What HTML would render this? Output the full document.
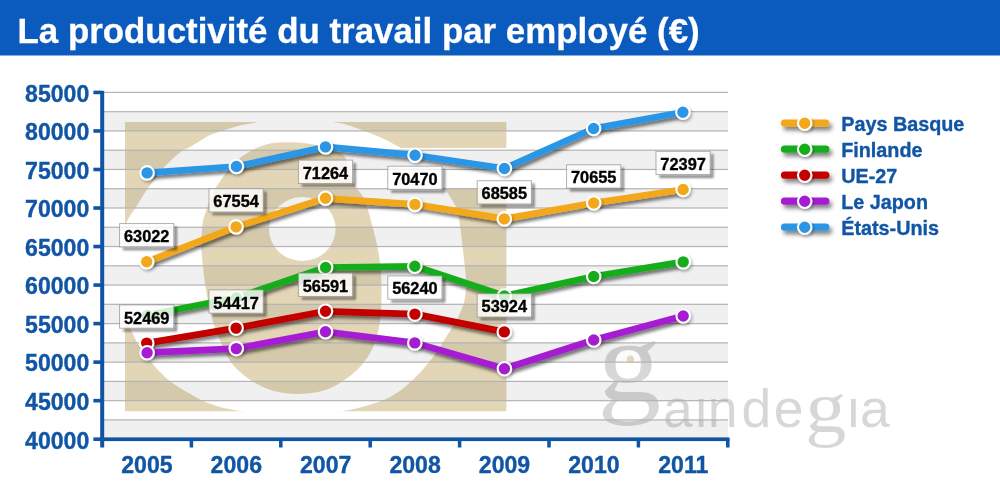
<!DOCTYPE html>
<html lang="fr">
<head>
<meta charset="utf-8">
<title>La productivité du travail par employé (€)</title>
<style>
html,body{margin:0;padding:0;background:#fff;}
body{width:1000px;height:500px;overflow:hidden;font-family:"Liberation Sans",sans-serif;}
svg{display:block}
svg text{font-family:"Liberation Sans",sans-serif;font-weight:bold}
.title{font-size:34.7px;fill:#fff;stroke:#fff;stroke-width:0.3px}
.ylab text,.xlab text{font-size:23.1px;fill:#1155a5;stroke:#1155a5;stroke-width:0.35px;stroke-linejoin:round}
.dl text{font-size:16.35px;fill:#000;stroke:#000;stroke-width:0.35px;stroke-linejoin:round}
.leg text{font-size:19.8px;fill:#1155a5;stroke:#1155a5;stroke-width:0.35px;stroke-linejoin:round}
.wm text{font-weight:normal;fill:#000;fill-opacity:0.155}
.wm .serif{font-family:"Liberation Serif",serif}
</style>
</head>
<body>
<svg width="1000" height="500" viewBox="0 0 1000 500">
<defs>
 <filter id="sh" x="-20%" y="-50%" width="140%" height="200%">
  <feDropShadow dx="2" dy="3.2" stdDeviation="1.6" flood-color="#000" flood-opacity="0.5"/>
 </filter>
 <filter id="shl" filterUnits="userSpaceOnUse" x="770" y="105" width="80" height="140">
  <feDropShadow dx="2.6" dy="3.6" stdDeviation="1.9" flood-color="#000" flood-opacity="0.5"/>
 </filter>
 <filter id="shm" x="-20%" y="-50%" width="140%" height="200%">
  <feDropShadow dx="1.5" dy="2" stdDeviation="1.5" flood-color="#000" flood-opacity="0.28"/>
 </filter>
 <filter id="sh2" x="-20%" y="-20%" width="140%" height="140%">
  <feGaussianBlur stdDeviation="0.95"/>
 </filter>
</defs>
<rect x="0" y="0" width="1000" height="500" fill="#fff"/>
<rect x="0" y="0" width="1000" height="55.5" fill="#0b5abd"/>
<text class="title" transform="translate(17.5,42.5) scale(1.0055,0.992)">La productivité du travail par employé (€)</text>
<g class="bands"><rect x="104" y="111.67" width="624" height="19.27" fill="#f0f0f0"/><rect x="104" y="150.20" width="624" height="19.27" fill="#f0f0f0"/><rect x="104" y="188.73" width="624" height="19.27" fill="#f0f0f0"/><rect x="104" y="227.27" width="624" height="19.27" fill="#f0f0f0"/><rect x="104" y="265.80" width="624" height="19.27" fill="#f0f0f0"/><rect x="104" y="304.33" width="624" height="19.27" fill="#f0f0f0"/><rect x="104" y="342.87" width="624" height="19.27" fill="#f0f0f0"/><rect x="104" y="381.40" width="624" height="19.27" fill="#f0f0f0"/><rect x="104" y="419.93" width="624" height="19.27" fill="#f0f0f0"/></g>

<mask id="lm" maskUnits="userSpaceOnUse" x="120" y="118" width="392" height="298">
 <rect x="125" y="122" width="381.6" height="289.5" fill="#fff"/>
 <path d="M295.0 114.0C288.3 114.1 281.2 116.2 275.0 117.5C268.8 118.8 263.8 120.7 258.0 122.0C252.2 123.3 245.5 124.2 240.0 125.5C234.5 126.8 230.0 128.4 225.0 130.0C220.0 131.6 214.2 133.2 210.0 135.0C205.8 136.8 203.3 139.0 200.0 141.0C196.7 143.0 193.3 145.1 190.0 147.0C186.7 148.9 184.3 149.1 180.0 152.5C175.7 155.9 169.6 161.2 164.0 167.5C158.4 173.8 151.1 183.9 146.4 190.5C141.7 197.1 138.7 202.8 136.0 207.0C133.3 211.2 131.8 212.8 130.0 216.0C128.2 219.2 126.9 220.3 125.5 226.0C124.1 231.7 122.3 241.5 121.5 250.0C120.7 258.5 120.3 267.8 120.5 277.0C120.7 286.2 121.5 297.8 122.5 305.0C123.5 312.2 125.2 316.0 126.5 320.0C127.8 324.0 128.0 324.0 130.4 328.8C132.8 333.6 135.6 341.1 141.2 349.0C146.8 356.9 156.5 368.9 164.0 376.0C171.5 383.1 177.9 386.6 186.0 391.4C194.1 396.2 202.9 401.2 212.4 404.6C221.9 408.0 230.1 409.7 243.0 411.6C255.9 413.5 273.9 416.0 290.0 416.0C306.1 416.0 325.1 413.9 339.6 411.6C354.1 409.3 367.1 405.8 377.0 402.4C386.9 399.0 392.4 395.8 399.0 391.4C405.6 387.0 411.1 381.5 416.6 376.0C422.1 370.5 427.2 364.6 432.0 358.4C436.8 352.2 440.8 345.6 445.2 338.6C449.6 331.6 455.2 323.0 458.4 316.6C461.6 310.2 463.2 305.8 464.5 300.0C465.8 294.2 466.1 288.8 466.0 282.0C465.9 275.2 465.3 270.2 464.0 259.0C462.7 247.8 460.4 224.8 458.4 215.0C456.4 205.2 454.6 204.7 452.0 200.0C449.4 195.3 446.7 191.7 443.0 187.0C439.3 182.3 434.8 177.0 430.0 172.0C425.2 167.0 418.5 160.8 414.0 157.0C409.5 153.2 406.3 151.1 403.0 149.0C399.7 146.9 397.5 146.0 394.0 144.2C390.5 142.4 387.0 140.2 382.0 138.0C377.0 135.8 370.0 133.1 364.0 130.8C358.0 128.6 351.4 126.0 346.0 124.5C340.6 123.0 336.8 123.0 331.6 121.8C326.4 120.5 321.1 118.3 315.0 117.0C308.9 115.7 301.7 113.9 295.0 114.0Z" fill="#000"/>
 <rect x="396" y="148" width="120" height="40" fill="#000"/>
 <path d="M298.0 142.6C291.2 142.2 281.9 141.9 275.0 142.8C268.1 143.7 262.4 145.3 256.4 148.0C250.4 150.7 244.3 154.2 238.8 159.0C233.3 163.8 227.8 170.7 223.4 176.6C219.0 182.5 215.3 188.3 212.4 194.2C209.5 200.1 207.5 206.7 205.8 211.8C204.2 216.9 203.2 219.0 202.5 225.0C201.8 231.0 201.0 238.7 201.4 248.0C201.8 257.3 203.3 270.7 204.7 281.0C206.1 291.3 208.0 301.5 210.0 310.0C212.0 318.5 213.5 323.5 216.8 332.0C220.1 340.5 225.1 353.3 230.0 360.8C234.9 368.3 240.7 372.5 246.0 376.8C251.3 381.1 256.7 383.9 262.0 386.4C267.3 388.9 272.1 390.8 278.0 392.0C283.9 393.2 290.5 393.9 297.2 393.9C303.9 393.9 311.9 393.2 318.0 392.0C324.1 390.8 328.7 389.1 334.0 386.4C339.3 383.7 345.2 379.7 350.0 376.0C354.8 372.3 358.8 368.4 362.5 364.0C366.2 359.6 369.3 355.3 372.0 349.6C374.7 343.9 377.0 336.6 378.5 330.0C380.0 323.4 380.5 318.2 381.0 310.0C381.5 301.8 381.6 289.5 381.4 281.0C381.1 272.5 380.5 266.2 379.5 259.0C378.5 251.8 376.8 243.7 375.5 238.0C374.2 232.3 373.2 229.7 372.0 225.0C370.8 220.3 369.6 214.8 368.0 210.0C366.4 205.2 364.7 200.1 362.5 196.0C360.3 191.9 357.2 189.5 355.0 185.5C352.8 181.5 351.0 176.4 349.5 172.0C348.0 167.6 347.7 162.2 346.0 159.0C344.3 155.8 342.2 154.2 339.5 152.5C336.8 150.8 333.9 149.8 330.0 148.5C326.1 147.2 321.3 146.0 316.0 145.0C310.7 144.0 304.8 143.0 298.0 142.6Z" fill="#fff"/>
 <ellipse cx="302.3" cy="229" rx="33.3" ry="32" fill="#000"/>
</mask>
<rect x="125" y="122" width="381.6" height="289.5" fill="rgb(227,214,183)" mask="url(#lm)" style="mix-blend-mode:multiply"/>
<ellipse cx="628.8" cy="364.5" rx="14.5" ry="14" fill="#fff" fill-opacity="0.75"/>
<g class="wm"><text font-size="53.5"><tspan class="serif" x="597.3" y="400.9" font-size="115.67" textLength="63.96" lengthAdjust="spacingAndGlyphs">g</tspan><tspan x="662.9 695.2 707.8 741.6 773.7" y="426.9">ainde</tspan><tspan class="serif" x="805.3" y="431.8" font-size="73.28" textLength="41.06" lengthAdjust="spacingAndGlyphs">g</tspan><tspan x="847.6 860.1" y="426.9">ia</tspan></text></g>
<rect x="697.6" y="386.5" width="7" height="8.6" fill="#f0f0f0"/>
<rect x="850" y="386.5" width="7" height="8.6" fill="#fff"/>
<circle cx="630.4" cy="359.2" r="3.6" fill="#e3d8b8"/>
<g class="gridlines"><rect x="104" y="91.80" width="624" height="1.2" fill="#b3b3b3"/><rect x="104" y="111.07" width="624" height="1.2" fill="#b3b3b3"/><rect x="104" y="130.33" width="624" height="1.2" fill="#b3b3b3"/><rect x="104" y="149.60" width="624" height="1.2" fill="#b3b3b3"/><rect x="104" y="168.87" width="624" height="1.2" fill="#b3b3b3"/><rect x="104" y="188.13" width="624" height="1.2" fill="#b3b3b3"/><rect x="104" y="207.40" width="624" height="1.2" fill="#b3b3b3"/><rect x="104" y="226.67" width="624" height="1.2" fill="#b3b3b3"/><rect x="104" y="245.93" width="624" height="1.2" fill="#b3b3b3"/><rect x="104" y="265.20" width="624" height="1.2" fill="#b3b3b3"/><rect x="104" y="284.47" width="624" height="1.2" fill="#b3b3b3"/><rect x="104" y="303.73" width="624" height="1.2" fill="#b3b3b3"/><rect x="104" y="323.00" width="624" height="1.2" fill="#b3b3b3"/><rect x="104" y="342.27" width="624" height="1.2" fill="#b3b3b3"/><rect x="104" y="361.53" width="624" height="1.2" fill="#b3b3b3"/><rect x="104" y="380.80" width="624" height="1.2" fill="#b3b3b3"/><rect x="104" y="400.07" width="624" height="1.2" fill="#b3b3b3"/><rect x="104" y="419.33" width="624" height="1.2" fill="#b3b3b3"/></g>
<g class="axes"><rect x="100.2" y="90.8" width="4" height="356.7" fill="#0f54a5"/><rect x="100.2" y="437.4" width="629.3" height="3.7" fill="#0f54a5"/><rect x="93.4" y="437.40" width="8" height="3.6" fill="#0f54a5"/><rect x="93.4" y="398.87" width="8" height="3.6" fill="#0f54a5"/><rect x="93.4" y="360.34" width="8" height="3.6" fill="#0f54a5"/><rect x="93.4" y="321.81" width="8" height="3.6" fill="#0f54a5"/><rect x="93.4" y="283.28" width="8" height="3.6" fill="#0f54a5"/><rect x="93.4" y="244.75" width="8" height="3.6" fill="#0f54a5"/><rect x="93.4" y="206.22" width="8" height="3.6" fill="#0f54a5"/><rect x="93.4" y="167.69" width="8" height="3.6" fill="#0f54a5"/><rect x="93.4" y="129.16" width="8" height="3.6" fill="#0f54a5"/><rect x="93.4" y="90.63" width="8" height="3.6" fill="#0f54a5"/><rect x="189.65" y="439" width="3.5" height="8.5" fill="#0f54a5"/><rect x="279.05" y="439" width="3.5" height="8.5" fill="#0f54a5"/><rect x="368.45" y="439" width="3.5" height="8.5" fill="#0f54a5"/><rect x="457.85" y="439" width="3.5" height="8.5" fill="#0f54a5"/><rect x="547.25" y="439" width="3.5" height="8.5" fill="#0f54a5"/><rect x="636.65" y="439" width="3.5" height="8.5" fill="#0f54a5"/><rect x="726.05" y="439" width="3.5" height="8.5" fill="#0f54a5"/></g>
<g class="ylab"><text x="89.3" y="448.5" text-anchor="end">40000</text><text x="89.3" y="410.0" text-anchor="end">45000</text><text x="89.3" y="371.4" text-anchor="end">50000</text><text x="89.3" y="332.9" text-anchor="end">55000</text><text x="89.3" y="294.4" text-anchor="end">60000</text><text x="89.3" y="255.8" text-anchor="end">65000</text><text x="89.3" y="217.3" text-anchor="end">70000</text><text x="89.3" y="178.8" text-anchor="end">75000</text><text x="89.3" y="140.3" text-anchor="end">80000</text><text x="89.3" y="101.7" text-anchor="end">85000</text></g>
<g class="xlab"><text x="146.9" y="473.2" text-anchor="middle">2005</text><text x="236.3" y="473.2" text-anchor="middle">2006</text><text x="325.7" y="473.2" text-anchor="middle">2007</text><text x="415.1" y="473.2" text-anchor="middle">2008</text><text x="504.5" y="473.2" text-anchor="middle">2009</text><text x="593.9" y="473.2" text-anchor="middle">2010</text><text x="683.3" y="473.2" text-anchor="middle">2011</text></g>
<g class="series"><polyline filter="url(#sh)" points="147.1,172.9 236.4,166.5 325.5,146.9 415.0,155.2 504.4,168.5 593.6,128.5 682.9,112.2" fill="none" stroke="#2c96e5" stroke-width="6.7" stroke-linejoin="round" stroke-linecap="round"/><g filter="url(#shm)"><circle cx="147.1" cy="172.9" r="6.75" fill="#2c96e5" stroke="#fff" stroke-width="2.1"/><circle cx="236.4" cy="166.5" r="6.75" fill="#2c96e5" stroke="#fff" stroke-width="2.1"/><circle cx="325.5" cy="146.9" r="6.75" fill="#2c96e5" stroke="#fff" stroke-width="2.1"/><circle cx="415.0" cy="155.2" r="6.75" fill="#2c96e5" stroke="#fff" stroke-width="2.1"/><circle cx="504.4" cy="168.5" r="6.75" fill="#2c96e5" stroke="#fff" stroke-width="2.1"/><circle cx="593.6" cy="128.5" r="6.75" fill="#2c96e5" stroke="#fff" stroke-width="2.1"/><circle cx="682.9" cy="112.2" r="6.75" fill="#2c96e5" stroke="#fff" stroke-width="2.1"/></g><polyline filter="url(#sh)" points="146.7,261.8 236.1,226.9 325.5,198.3 414.9,204.4 504.3,218.9 593.7,203.0 683.1,189.5" fill="none" stroke="#f3a81a" stroke-width="6.7" stroke-linejoin="round" stroke-linecap="round"/><g filter="url(#shm)"><circle cx="146.7" cy="261.8" r="6.75" fill="#f3a81a" stroke="#fff" stroke-width="2.1"/><circle cx="236.1" cy="226.9" r="6.75" fill="#f3a81a" stroke="#fff" stroke-width="2.1"/><circle cx="325.5" cy="198.3" r="6.75" fill="#f3a81a" stroke="#fff" stroke-width="2.1"/><circle cx="414.9" cy="204.4" r="6.75" fill="#f3a81a" stroke="#fff" stroke-width="2.1"/><circle cx="504.3" cy="218.9" r="6.75" fill="#f3a81a" stroke="#fff" stroke-width="2.1"/><circle cx="593.7" cy="203.0" r="6.75" fill="#f3a81a" stroke="#fff" stroke-width="2.1"/><circle cx="683.1" cy="189.5" r="6.75" fill="#f3a81a" stroke="#fff" stroke-width="2.1"/></g><polyline filter="url(#sh)" points="147.1,315.2 236.4,297.8 325.6,267.5 414.8,266.3 504.4,296.0 593.7,276.5 683.2,261.9" fill="none" stroke="#18ad1b" stroke-width="6.7" stroke-linejoin="round" stroke-linecap="round"/><g filter="url(#shm)"><circle cx="147.1" cy="315.2" r="6.75" fill="#18ad1b" stroke="#fff" stroke-width="2.1"/><circle cx="236.4" cy="297.8" r="6.75" fill="#18ad1b" stroke="#fff" stroke-width="2.1"/><circle cx="325.6" cy="267.5" r="6.75" fill="#18ad1b" stroke="#fff" stroke-width="2.1"/><circle cx="414.8" cy="266.3" r="6.75" fill="#18ad1b" stroke="#fff" stroke-width="2.1"/><circle cx="504.4" cy="296.0" r="6.75" fill="#18ad1b" stroke="#fff" stroke-width="2.1"/><circle cx="593.7" cy="276.5" r="6.75" fill="#18ad1b" stroke="#fff" stroke-width="2.1"/><circle cx="683.2" cy="261.9" r="6.75" fill="#18ad1b" stroke="#fff" stroke-width="2.1"/></g><polyline filter="url(#sh)" points="146.7,343.1 236.1,328.1 325.5,311.3 414.9,314.1 504.3,331.9" fill="none" stroke="#c20404" stroke-width="6.7" stroke-linejoin="round" stroke-linecap="round"/><g filter="url(#shm)"><circle cx="146.7" cy="343.1" r="6.75" fill="#c20404" stroke="#fff" stroke-width="2.1"/><circle cx="236.1" cy="328.1" r="6.75" fill="#c20404" stroke="#fff" stroke-width="2.1"/><circle cx="325.5" cy="311.3" r="6.75" fill="#c20404" stroke="#fff" stroke-width="2.1"/><circle cx="414.9" cy="314.1" r="6.75" fill="#c20404" stroke="#fff" stroke-width="2.1"/><circle cx="504.3" cy="331.9" r="6.75" fill="#c20404" stroke="#fff" stroke-width="2.1"/></g><polyline filter="url(#sh)" points="147.1,352.7 236.3,348.6 325.5,331.7 414.8,342.9 504.4,368.8 593.7,340.0 683.2,316.0" fill="none" stroke="#a51dd2" stroke-width="6.7" stroke-linejoin="round" stroke-linecap="round"/><g filter="url(#shm)"><circle cx="147.1" cy="352.7" r="6.75" fill="#a51dd2" stroke="#fff" stroke-width="2.1"/><circle cx="236.3" cy="348.6" r="6.75" fill="#a51dd2" stroke="#fff" stroke-width="2.1"/><circle cx="325.5" cy="331.7" r="6.75" fill="#a51dd2" stroke="#fff" stroke-width="2.1"/><circle cx="414.8" cy="342.9" r="6.75" fill="#a51dd2" stroke="#fff" stroke-width="2.1"/><circle cx="504.4" cy="368.8" r="6.75" fill="#a51dd2" stroke="#fff" stroke-width="2.1"/><circle cx="593.7" cy="340.0" r="6.75" fill="#a51dd2" stroke="#fff" stroke-width="2.1"/><circle cx="683.2" cy="316.0" r="6.75" fill="#a51dd2" stroke="#fff" stroke-width="2.1"/></g></g>
<g class="dl"><path filter="url(#sh2)" d="M174.3 226.4h2.8v23.8h-54.2v-2.8h51.4z" fill="#000" fill-opacity="0.46"/><rect x="119.6" y="223.6" width="54.2" height="23.3" fill="#fff" fill-opacity="0.8" stroke="#8c8c8c" stroke-opacity="0.75" stroke-width="0.9"/><text x="146.7" y="242.1" text-anchor="middle">63022</text><path filter="url(#sh2)" d="M263.7 191.5h2.8v23.8h-54.2v-2.8h51.4z" fill="#000" fill-opacity="0.46"/><rect x="209.0" y="188.7" width="54.2" height="23.3" fill="#fff" fill-opacity="0.8" stroke="#8c8c8c" stroke-opacity="0.75" stroke-width="0.9"/><text x="236.1" y="207.2" text-anchor="middle">67554</text><path filter="url(#sh2)" d="M353.1 162.9h2.8v23.8h-54.2v-2.8h51.4z" fill="#000" fill-opacity="0.46"/><rect x="298.4" y="160.1" width="54.2" height="23.3" fill="#fff" fill-opacity="0.8" stroke="#8c8c8c" stroke-opacity="0.75" stroke-width="0.9"/><text x="325.5" y="178.6" text-anchor="middle">71264</text><path filter="url(#sh2)" d="M442.5 169.0h2.8v23.8h-54.2v-2.8h51.4z" fill="#000" fill-opacity="0.46"/><rect x="387.8" y="166.2" width="54.2" height="23.3" fill="#fff" fill-opacity="0.8" stroke="#8c8c8c" stroke-opacity="0.75" stroke-width="0.9"/><text x="414.9" y="184.7" text-anchor="middle">70470</text><path filter="url(#sh2)" d="M531.9 183.5h2.8v23.8h-54.2v-2.8h51.4z" fill="#000" fill-opacity="0.46"/><rect x="477.2" y="180.7" width="54.2" height="23.3" fill="#fff" fill-opacity="0.8" stroke="#8c8c8c" stroke-opacity="0.75" stroke-width="0.9"/><text x="504.3" y="199.3" text-anchor="middle">68585</text><path filter="url(#sh2)" d="M621.3 167.6h2.8v23.8h-54.2v-2.8h51.4z" fill="#000" fill-opacity="0.46"/><rect x="566.6" y="164.8" width="54.2" height="23.3" fill="#fff" fill-opacity="0.8" stroke="#8c8c8c" stroke-opacity="0.75" stroke-width="0.9"/><text x="593.7" y="183.3" text-anchor="middle">70655</text><path filter="url(#sh2)" d="M710.7 154.1h2.8v23.8h-54.2v-2.8h51.4z" fill="#000" fill-opacity="0.46"/><rect x="656.0" y="151.3" width="54.2" height="23.3" fill="#fff" fill-opacity="0.8" stroke="#8c8c8c" stroke-opacity="0.75" stroke-width="0.9"/><text x="683.1" y="169.9" text-anchor="middle">72397</text><path filter="url(#sh2)" d="M174.3 307.7h2.8v23.8h-54.2v-2.8h51.4z" fill="#000" fill-opacity="0.46"/><rect x="119.6" y="304.9" width="54.2" height="23.3" fill="#fff" fill-opacity="0.8" stroke="#8c8c8c" stroke-opacity="0.75" stroke-width="0.9"/><text x="146.7" y="323.5" text-anchor="middle">52469</text><path filter="url(#sh2)" d="M263.7 292.7h2.8v23.8h-54.2v-2.8h51.4z" fill="#000" fill-opacity="0.46"/><rect x="209.0" y="289.9" width="54.2" height="23.3" fill="#fff" fill-opacity="0.8" stroke="#8c8c8c" stroke-opacity="0.75" stroke-width="0.9"/><text x="236.1" y="308.5" text-anchor="middle">54417</text><path filter="url(#sh2)" d="M353.1 275.9h2.8v23.8h-54.2v-2.8h51.4z" fill="#000" fill-opacity="0.46"/><rect x="298.4" y="273.1" width="54.2" height="23.3" fill="#fff" fill-opacity="0.8" stroke="#8c8c8c" stroke-opacity="0.75" stroke-width="0.9"/><text x="325.5" y="291.7" text-anchor="middle">56591</text><path filter="url(#sh2)" d="M442.5 278.7h2.8v23.8h-54.2v-2.8h51.4z" fill="#000" fill-opacity="0.46"/><rect x="387.8" y="275.9" width="54.2" height="23.3" fill="#fff" fill-opacity="0.8" stroke="#8c8c8c" stroke-opacity="0.75" stroke-width="0.9"/><text x="414.9" y="294.4" text-anchor="middle">56240</text><path filter="url(#sh2)" d="M531.9 296.5h2.8v23.8h-54.2v-2.8h51.4z" fill="#000" fill-opacity="0.46"/><rect x="477.2" y="293.7" width="54.2" height="23.3" fill="#fff" fill-opacity="0.8" stroke="#8c8c8c" stroke-opacity="0.75" stroke-width="0.9"/><text x="504.3" y="312.3" text-anchor="middle">53924</text></g>
<g class="leg"><line filter="url(#shl)" x1="784.5" y1="123.2" x2="825.8" y2="123.2" stroke="#f3a81a" stroke-width="7.2" stroke-linecap="round"/><circle filter="url(#shm)" cx="804.7" cy="123.2" r="6.75" fill="#f3a81a" stroke="#fff" stroke-width="2.1"/><text x="841.2" y="130.5">Pays Basque</text><line filter="url(#shl)" x1="784.5" y1="149.2" x2="825.8" y2="149.2" stroke="#18ad1b" stroke-width="7.2" stroke-linecap="round"/><circle filter="url(#shm)" cx="804.7" cy="149.2" r="6.75" fill="#18ad1b" stroke="#fff" stroke-width="2.1"/><text x="841.2" y="156.5">Finlande</text><line filter="url(#shl)" x1="784.5" y1="175.2" x2="825.8" y2="175.2" stroke="#c20404" stroke-width="7.2" stroke-linecap="round"/><circle filter="url(#shm)" cx="804.7" cy="175.2" r="6.75" fill="#c20404" stroke="#fff" stroke-width="2.1"/><text x="841.2" y="182.5">UE-27</text><line filter="url(#shl)" x1="784.5" y1="201.2" x2="825.8" y2="201.2" stroke="#a51dd2" stroke-width="7.2" stroke-linecap="round"/><circle filter="url(#shm)" cx="804.7" cy="201.2" r="6.75" fill="#a51dd2" stroke="#fff" stroke-width="2.1"/><text x="841.2" y="208.5">Le Japon</text><line filter="url(#shl)" x1="784.5" y1="227.2" x2="825.8" y2="227.2" stroke="#2c96e5" stroke-width="7.2" stroke-linecap="round"/><circle filter="url(#shm)" cx="804.7" cy="227.2" r="6.75" fill="#2c96e5" stroke="#fff" stroke-width="2.1"/><text x="841.2" y="234.5">États-Unis</text></g>
</svg>
</body>
</html>
